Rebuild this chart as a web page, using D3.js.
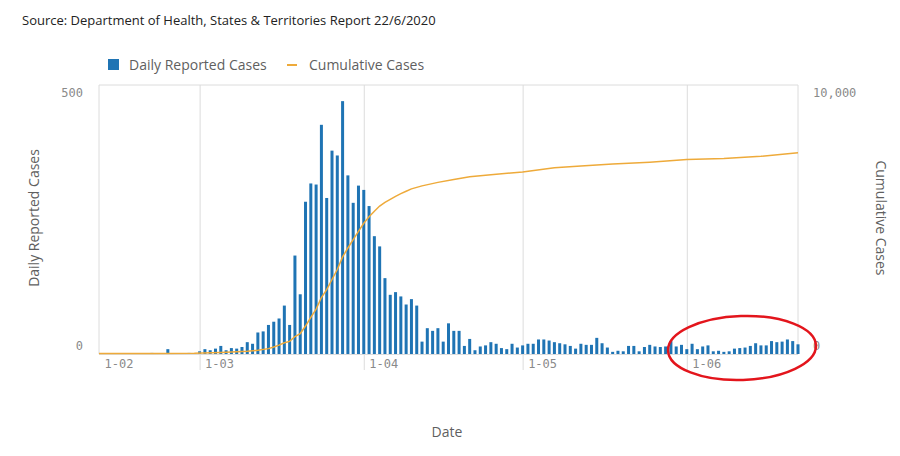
<!DOCTYPE html>
<html>
<head>
<meta charset="utf-8">
<script src="https://cdn.jsdelivr.net/npm/d3@7/dist/d3.min.js"></script>
<style>
  body { margin: 0; background: #fff; }
  svg { display: block; font-family: "Open Sans", sans-serif; }
  .tick text { font-family: "DejaVu Sans Mono", monospace; font-size: 12px; fill: #8a8a8a; }
</style>
</head>
<body>
<svg id="chart" width="900" height="456"></svg>
<script>
(function () {

  "use strict";

  // daily reported cases, one value per day, first day of each array given in monthStarts
  var monthStarts = ["2020-02-11", "2020-03-01", "2020-04-01", "2020-05-01", "2020-06-01"];
  var febDaily = [0, 0, 0, 0, 0, 0, 1, 0, 0, 0, 2, 0, 0, 9, 0, 0, 0, 2, 0];
  var marDaily = [5, 9, 7, 10, 15, 7, 11, 10, 13, 22, 19, 40, 42, 54, 60, 66, 90, 54, 183, 111,
    283, 317, 315, 426, 290, 378, 369, 470, 332, 281, 313];
  var aprDaily = [305, 275, 219, 200, 141, 110, 115, 107, 92, 102, 90, 23, 48, 43, 48, 23, 57, 43,
    43, 15, 28, 7, 14, 16, 22, 19, 11, 9, 19, 12];
  var mayDaily = [16, 19, 19, 27, 27, 25, 22, 20, 18, 15, 10, 19, 17, 17, 30, 20, 12, 4, 6, 5, 15,
    15, 5, 13, 17, 14, 13, 14, 24, 14, 17];
  var junDaily = [9, 19, 9, 14, 16, 5, 6, 4, 5, 10, 11, 12, 15, 20, 16, 16, 24, 22, 23, 27, 24, 18];

  // cumulative cases
  var cumDates = ["2020-02-11", "2020-02-21", "2020-02-29", "2020-03-05", "2020-03-10", "2020-03-12",
    "2020-03-14", "2020-03-15", "2020-03-16", "2020-03-17", "2020-03-18", "2020-03-19", "2020-03-20",
    "2020-03-21", "2020-03-22", "2020-03-23", "2020-03-24", "2020-03-25", "2020-03-26", "2020-03-27",
    "2020-03-28", "2020-03-29", "2020-03-30", "2020-03-31", "2020-04-01", "2020-04-02", "2020-04-03",
    "2020-04-04", "2020-04-05", "2020-04-06", "2020-04-07", "2020-04-08", "2020-04-09", "2020-04-10",
    "2020-04-12", "2020-04-15", "2020-04-18", "2020-04-21", "2020-04-25", "2020-05-01", "2020-05-07",
    "2020-05-12", "2020-05-18", "2020-05-25", "2020-06-01", "2020-06-08", "2020-06-15", "2020-06-22"];
  var cumValues = [15, 20, 25, 55, 100, 140, 200, 260, 330, 420, 470, 650, 760, 1040, 1360, 1670,
    2100, 2390, 2770, 3140, 3610, 3940, 4250, 4560, 4860, 5100, 5310, 5500, 5640, 5750, 5860, 5960,
    6050, 6140, 6250, 6380, 6490, 6590, 6660, 6770, 6920, 6990, 7060, 7130, 7230, 7270, 7350, 7480];

  var xDomain = ["2020-02-11", "2020-06-22"];
  var monthTicks = ["2020-02-01", "2020-03-01", "2020-04-01", "2020-05-01", "2020-06-01"];
  var leftTicks = [0, 500];
  var rightTicks = [0, 10000];

  var BLUE = "#1f74b4", ORANGE = "#eeaa3a", GRID = "#dcdcdc", LABEL = "#5f5f5f";
  var plot = {left: 99, right: 798, top: 85, bottom: 354};

  var parse = d3.timeParse("%Y-%m-%d");
  var daily = [];
  [febDaily, marDaily, aprDaily, mayDaily, junDaily].forEach(function (arr, m) {
    var start = parse(monthStarts[m]);
    arr.forEach(function (v, i) {
      daily.push({date: d3.timeDay.offset(start, i), value: v});
    });
  });
  var cumulative = cumDates.map(function (d, i) {
    return {date: parse(d), value: cumValues[i]};
  });

  var svg = d3.select("#chart");

  var x = d3.scaleTime().domain(xDomain.map(parse)).range([plot.left, plot.right]);
  var yL = d3.scaleLinear().domain([0, 500]).range([plot.bottom, plot.top]);
  var yR = d3.scaleLinear().domain([0, 10000]).range([plot.bottom, plot.top]);

  // title
  svg.append("text").attr("x", 22).attr("y", 25)
    .style("font-size", "13px").style("fill", "#222")
    .text("Source: Department of Health, States & Territories Report 22/6/2020");

  // legend
  var legend = svg.append("g").style("font-size", "14px").style("fill", LABEL);
  legend.append("rect").attr("x", 108).attr("y", 59).attr("width", 11).attr("height", 11).attr("fill", BLUE);
  legend.append("text").attr("x", 129).attr("y", 70).text("Daily Reported Cases");
  legend.append("line").attr("x1", 287).attr("x2", 297).attr("y1", 65).attr("y2", 65)
    .attr("stroke", ORANGE).attr("stroke-width", 2);
  legend.append("text").attr("x", 309).attr("y", 70).text("Cumulative Cases");

  // x axis with month lines reaching below the baseline
  var xAxisScale = x.copy().clamp(true);
  var xAxis = svg.append("g").attr("transform", "translate(0,370)")
    .call(d3.axisBottom(xAxisScale)
      .tickValues(monthTicks.map(parse))
      .tickFormat(d3.timeFormat("%-d-%m"))
      .tickSizeInner(-(370 - plot.top))
      .tickSizeOuter(0));
  xAxis.select(".domain").remove();
  xAxis.selectAll(".tick line").attr("stroke", GRID);
  xAxis.selectAll(".tick").filter(function (d, i) { return i === 0; }).select("line").remove();
  xAxis.selectAll(".tick text").attr("text-anchor", "start").attr("x", 5).attr("y", -2).attr("dy", 0);

  // frame
  var frame = svg.append("g").attr("stroke", GRID).attr("fill", "none");
  frame.append("path").attr("d", "M" + plot.left + "," + plot.bottom + "V" + plot.top + "H" + plot.right + "V" + plot.bottom);
  frame.append("line").attr("x1", plot.left).attr("x2", plot.right)
    .attr("y1", plot.bottom + 0.5).attr("y2", plot.bottom + 0.5);

  // left axis
  var left = svg.append("g").attr("transform", "translate(" + plot.left + ",0)")
    .call(d3.axisLeft(yL).tickValues(leftTicks).tickSize(0).tickPadding(16));
  left.select(".domain").remove();
  left.selectAll(".tick text").attr("dy", function (d) { return d === 0 ? "-0.35em" : "0.95em"; });

  // right axis
  var right = svg.append("g").attr("transform", "translate(" + plot.right + ",0)")
    .call(d3.axisRight(yR).tickValues(rightTicks).tickSize(0).tickPadding(15).tickFormat(d3.format(",")));
  right.select(".domain").remove();
  right.selectAll(".tick text").attr("dy", function (d) { return d === 0 ? "-0.35em" : "0.95em"; });

  // bars
  var barW = 3;
  svg.append("g").selectAll("rect").data(daily.filter(function (d) { return d.value > 0; }))
    .join("rect")
    .attr("x", function (d) { return x(d.date) - barW / 2; })
    .attr("y", function (d) { return yL(d.value); })
    .attr("width", barW)
    .attr("height", function (d) { return plot.bottom - yL(d.value); })
    .attr("fill", BLUE);

  // cumulative line
  svg.append("path").datum(cumulative)
    .attr("fill", "none").attr("stroke", ORANGE).attr("stroke-width", 1.5)
    .attr("d", d3.line().x(function (d) { return x(d.date); }).y(function (d) { return yR(d.value); }));

  // axis titles
  svg.append("text").attr("transform", "translate(39,218) rotate(-90)")
    .attr("text-anchor", "middle").style("font-size", "14px").style("fill", LABEL)
    .text("Daily Reported Cases");
  svg.append("text").attr("transform", "translate(876,218) rotate(90)")
    .attr("text-anchor", "middle").style("font-size", "14px").style("fill", LABEL)
    .text("Cumulative Cases");
  svg.append("text").attr("x", 447).attr("y", 437)
    .attr("text-anchor", "middle").style("font-size", "14px").style("fill", LABEL)
    .text("Date");

  // red highlight ellipse
  svg.append("ellipse").attr("cx", 742).attr("cy", 348).attr("rx", 74).attr("ry", 32)
    .attr("transform", "rotate(-2,742,348)")
    .attr("fill", "none").attr("stroke", "#e3151c").attr("stroke-width", 2.5);

}());
</script>
</body>
</html>
